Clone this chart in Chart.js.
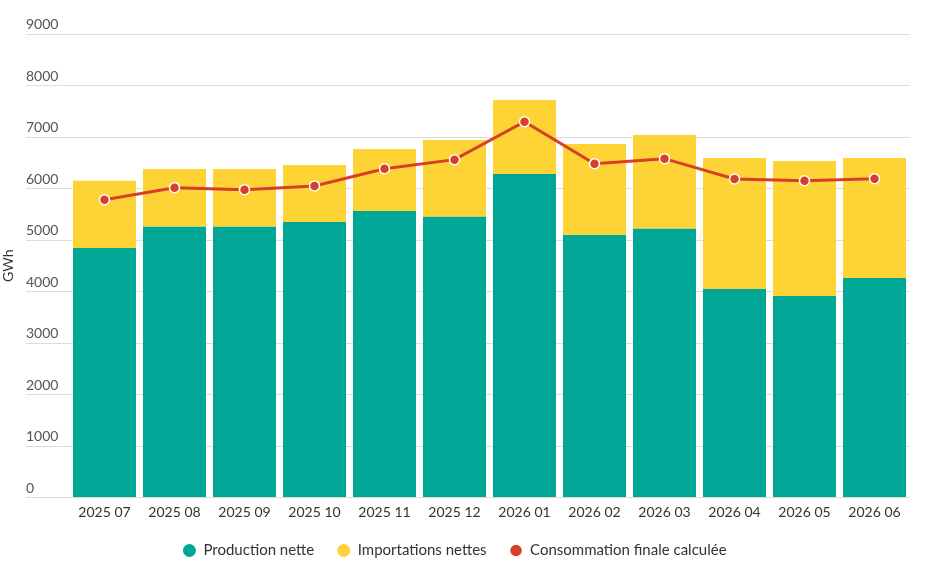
<!DOCTYPE html>
<html>
<head>
<meta charset="utf-8">
<script src="https://cdn.jsdelivr.net/npm/chart.js@4/dist/chart.umd.min.js"></script>
<style>
  html, body { margin: 0; padding: 0; background: #ffffff; }
  #wrap { width: 927px; height: 572px; position: relative; }
</style>
</head>
<body>
<div id="wrap"><canvas id="c"></canvas></div>
<script>
const categories = ["2025 07", "2025 08", "2025 09", "2025 10", "2025 11", "2025 12", "2026 01", "2026 02", "2026 03", "2026 04", "2026 05", "2026 06"];
const productionNette = [4845, 5258, 5258, 5350, 5563, 5453, 6282, 5097, 5220, 4049, 3913, 4262];
const importationsNettes = [1306, 1121, 1121, 1106, 1204, 1489, 1436, 1767, 1819, 2543, 2621, 2330];
const consommationFinale = [5783, 6016, 5977, 6049, 6385, 6560, 7297, 6482, 6579, 6184, 6152, 6190];
const yTicks = [0, 1000, 2000, 3000, 4000, 5000, 6000, 7000, 8000, 9000];
const seriesNames = ["Production nette", "Importations nettes", "Consommation finale calculée"];

const FONT = "Lato, 'Open Sans', sans-serif";

const legendHeightPlugin = {
  id: 'legendHeight',
  afterInit(chart) {
    const lg = chart.legend;
    if (!lg) return;
    const orig = lg.fit.bind(lg);
    lg.fit = function () { orig(); this.height = 52; };
  }
};

new Chart(document.getElementById('c'), {
  type: 'bar',
  data: {
    labels: categories,
    datasets: [
      {
        label: seriesNames[0],
        data: productionNette,
        backgroundColor: '#00a796',
        stack: 'bars',
        order: 1
      },
      {
        label: seriesNames[1],
        data: importationsNettes,
        backgroundColor: '#fdd335',
        stack: 'bars',
        order: 1
      },
      {
        type: 'line',
        label: seriesNames[2],
        data: consommationFinale,
        borderColor: '#d64027',
        backgroundColor: '#d64027',
        borderWidth: 3,
        pointRadius: 5,
        pointBorderColor: '#ffffff',
        pointBorderWidth: 1.5,
        pointBackgroundColor: '#d64027',
        tension: 0,
        stack: 'line',
        order: 0
      }
    ]
  },
  plugins: [legendHeightPlugin],
  options: {
    responsive: true,
    maintainAspectRatio: false,
    animation: false,
    layout: { padding: { top: 34, right: 17.5, left: 0, bottom: 0 } },
    datasets: { bar: { categoryPercentage: 1, barPercentage: 0.9 } },
    scales: {
      x: {
        stacked: true,
        offset: true,
        afterFit(scale) { scale.height = 22.5; },
        grid: { display: false, drawTicks: false },
        border: { display: false },
        ticks: { color: '#333333', font: { family: FONT, size: 14 }, padding: 7, maxRotation: 0, autoSkip: false }
      },
      y: {
        stacked: true,
        min: 0,
        max: 9000,
        afterBuildTicks(scale) { scale.ticks = yTicks.map(v => ({ value: v })); },
        afterFit(scale) { scale.width = 69.5; },
        grid: { color: '#dcdcdc', lineWidth: 1, drawTicks: true, tickLength: 43.5, tickColor: '#dcdcdc' },
        border: { display: false },
        title: { display: true, text: 'GWh', color: '#333333', font: { family: FONT, size: 14 }, padding: { top: 0, bottom: 0 } },
        ticks: {
          mirror: true,
          padding: -43.5,
          labelOffset: -9.5,
          color: '#555555',
          font: { family: FONT, size: 14 },
          callback: (v) => String(v)
        }
      }
    },
    plugins: {
      tooltip: { enabled: false },
      legend: {
        position: 'bottom',
        labels: {
          usePointStyle: true,
          pointStyle: 'circle',
          boxHeight: 9.2,
          pointStyleWidth: 13,
          padding: 23,
          color: '#333333',
          font: { family: FONT, size: 15 },
          sort: (a, b) => a.datasetIndex - b.datasetIndex
        }
      }
    }
  }
});
</script>
</body>
</html>
